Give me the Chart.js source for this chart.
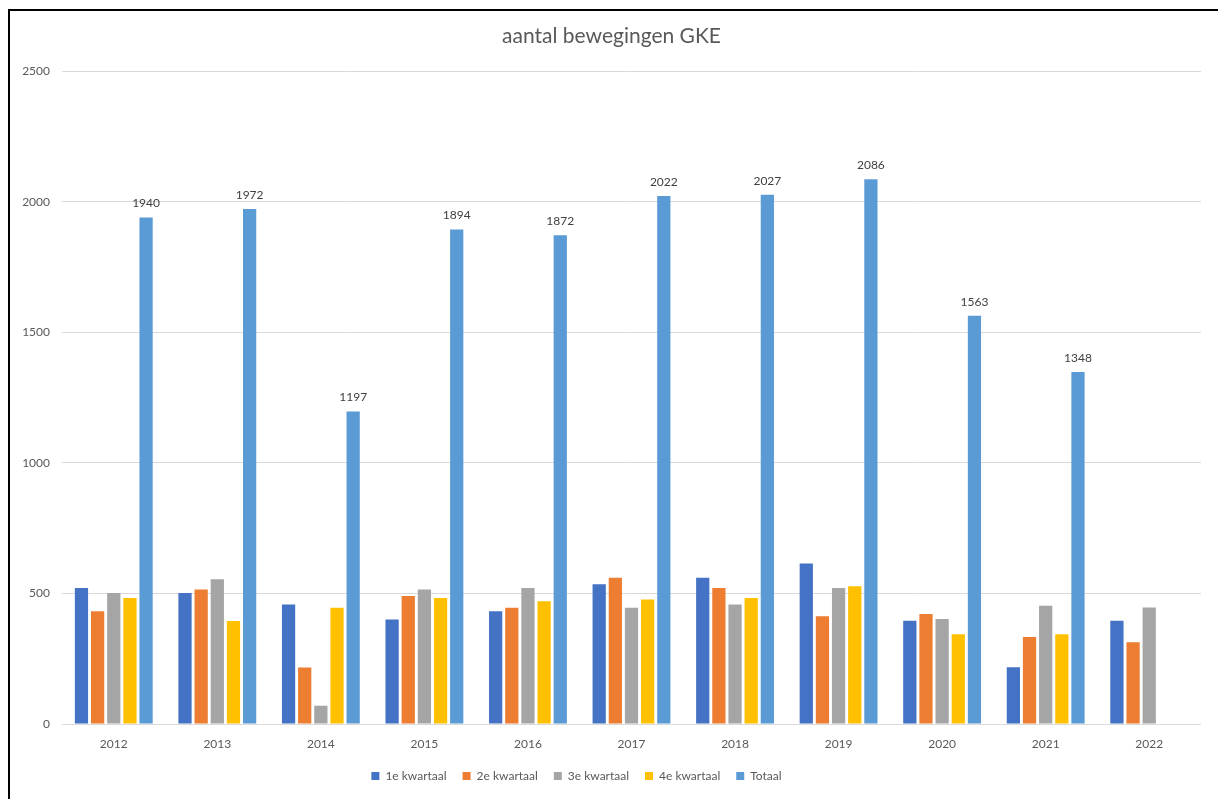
<!DOCTYPE html>
<html>
<head>
<meta charset="utf-8">
<script src="https://cdn.jsdelivr.net/npm/chart.js@4.4.0/dist/chart.umd.min.js"></script>
<style>
html,body{margin:0;padding:0;background:#fff;}
#frame{position:absolute;left:8px;top:9px;width:1230px;height:810px;border-left:2px solid #000;border-top:2px solid #000;box-sizing:border-box;}
#wrap{position:absolute;left:0;top:0;width:1218px;height:799px;}
</style>
</head>
<body>
<div id="frame"></div>
<div id="wrap"><canvas id="c" width="1218" height="799"></canvas></div>
<script>
const categories = ['2012','2013','2014','2015','2016','2017','2018','2019','2020','2021','2022'];
const q1 = [521, 502, 458, 400, 432, 535, 560, 615, 395, 217, 395];
const q2 = [432, 515, 216, 490, 445, 560, 521, 413, 421, 333, 313];
const q3 = [502, 554, 70, 515, 521, 445, 458, 521, 402, 453, 446];
const q4 = [483, 394, 445, 483, 470, 477, 483, 528, 344, 344, null];
const totaal = [1940, 1972, 1197, 1894, 1872, 2022, 2027, 2086, 1563, 1348, null];
const seriesNames = ['1e kwartaal','2e kwartaal','3e kwartaal','4e kwartaal','Totaal'];
const yTicks = [0, 500, 1000, 1500, 2000, 2500];

const colors = ['#4472C4','#ED7D31','#A5A5A5','#FFC000','#5B9BD5'];
const FONT = 'Lato, "Open Sans", sans-serif';

const totalLabels = {
  id: 'totalLabels',
  afterDatasetsDraw(chart) {
    const ctx = chart.ctx;
    const meta = chart.getDatasetMeta(4);
    ctx.save();
    ctx.font = '12px ' + FONT;
    ctx.fillStyle = '#404040';
    ctx.textAlign = 'center';
    ctx.textBaseline = 'bottom';
    meta.data.forEach((bar, i) => {
      const v = totaal[i];
      if (v == null) return;
      ctx.fillText(String(v), bar.x, bar.y - 8);
    });
    ctx.restore();
  }
};

// shift legend and title horizontally so they are centred like the reference
const blockShift = {
  id: 'blockShift',
  afterLayout(chart) {
    const lg = chart.legend;
    if (lg) { lg.left -= 24; lg.right -= 24; }
    const tb = chart.titleBlock;
    if (tb) { tb.left += 11; tb.right += 11; }
  }
};

const data = {
  labels: categories,
  datasets: [q1, q2, q3, q4, totaal].map((arr, i) => ({
    label: seriesNames[i],
    data: arr,
    backgroundColor: colors[i],
    borderWidth: 0,
    categoryPercentage: 0.78,
    barPercentage: 0.82
  }))
};

new Chart(document.getElementById('c'), {
  type: 'bar',
  data,
  plugins: [totalLabels, blockShift],
  options: {
    responsive: false,
    animation: false,
    layout: { padding: { left: 0, right: 17, top: 0, bottom: 7 } },
    plugins: {
      title: {
        display: true,
        text: 'aantal bewegingen GKE',
        color: '#595959',
        font: { family: FONT, size: 21, weight: 'normal' },
        padding: { top: 24, bottom: 22 }
      },
      legend: {
        position: 'bottom',
        labels: {
          boxWidth: 8,
          boxHeight: 8,
          color: '#595959',
          font: { family: FONT, size: 12 },
          padding: 16
        }
      },
      tooltip: { enabled: false }
    },
    scales: {
      x: {
        grid: { display: false, drawTicks: false },
        border: { display: false },
        ticks: { color: '#595959', font: { family: FONT, size: 12 }, padding: 13, maxRotation: 0 },
        afterFit(scale) { scale.height = 30; }
      },
      y: {
        min: 0,
        max: 2500,
        afterBuildTicks(scale) { scale.ticks = yTicks.map(v => ({ value: v })); },
        grid: { color: '#D9D9D9', lineWidth: 1, drawTicks: false },
        border: { display: false },
        ticks: { color: '#595959', font: { family: FONT, size: 12 }, padding: 12, callback: (v) => String(v) },
        afterFit(scale) { scale.width = 62; }
      }
    }
  }
});
</script>
</body>
</html>
